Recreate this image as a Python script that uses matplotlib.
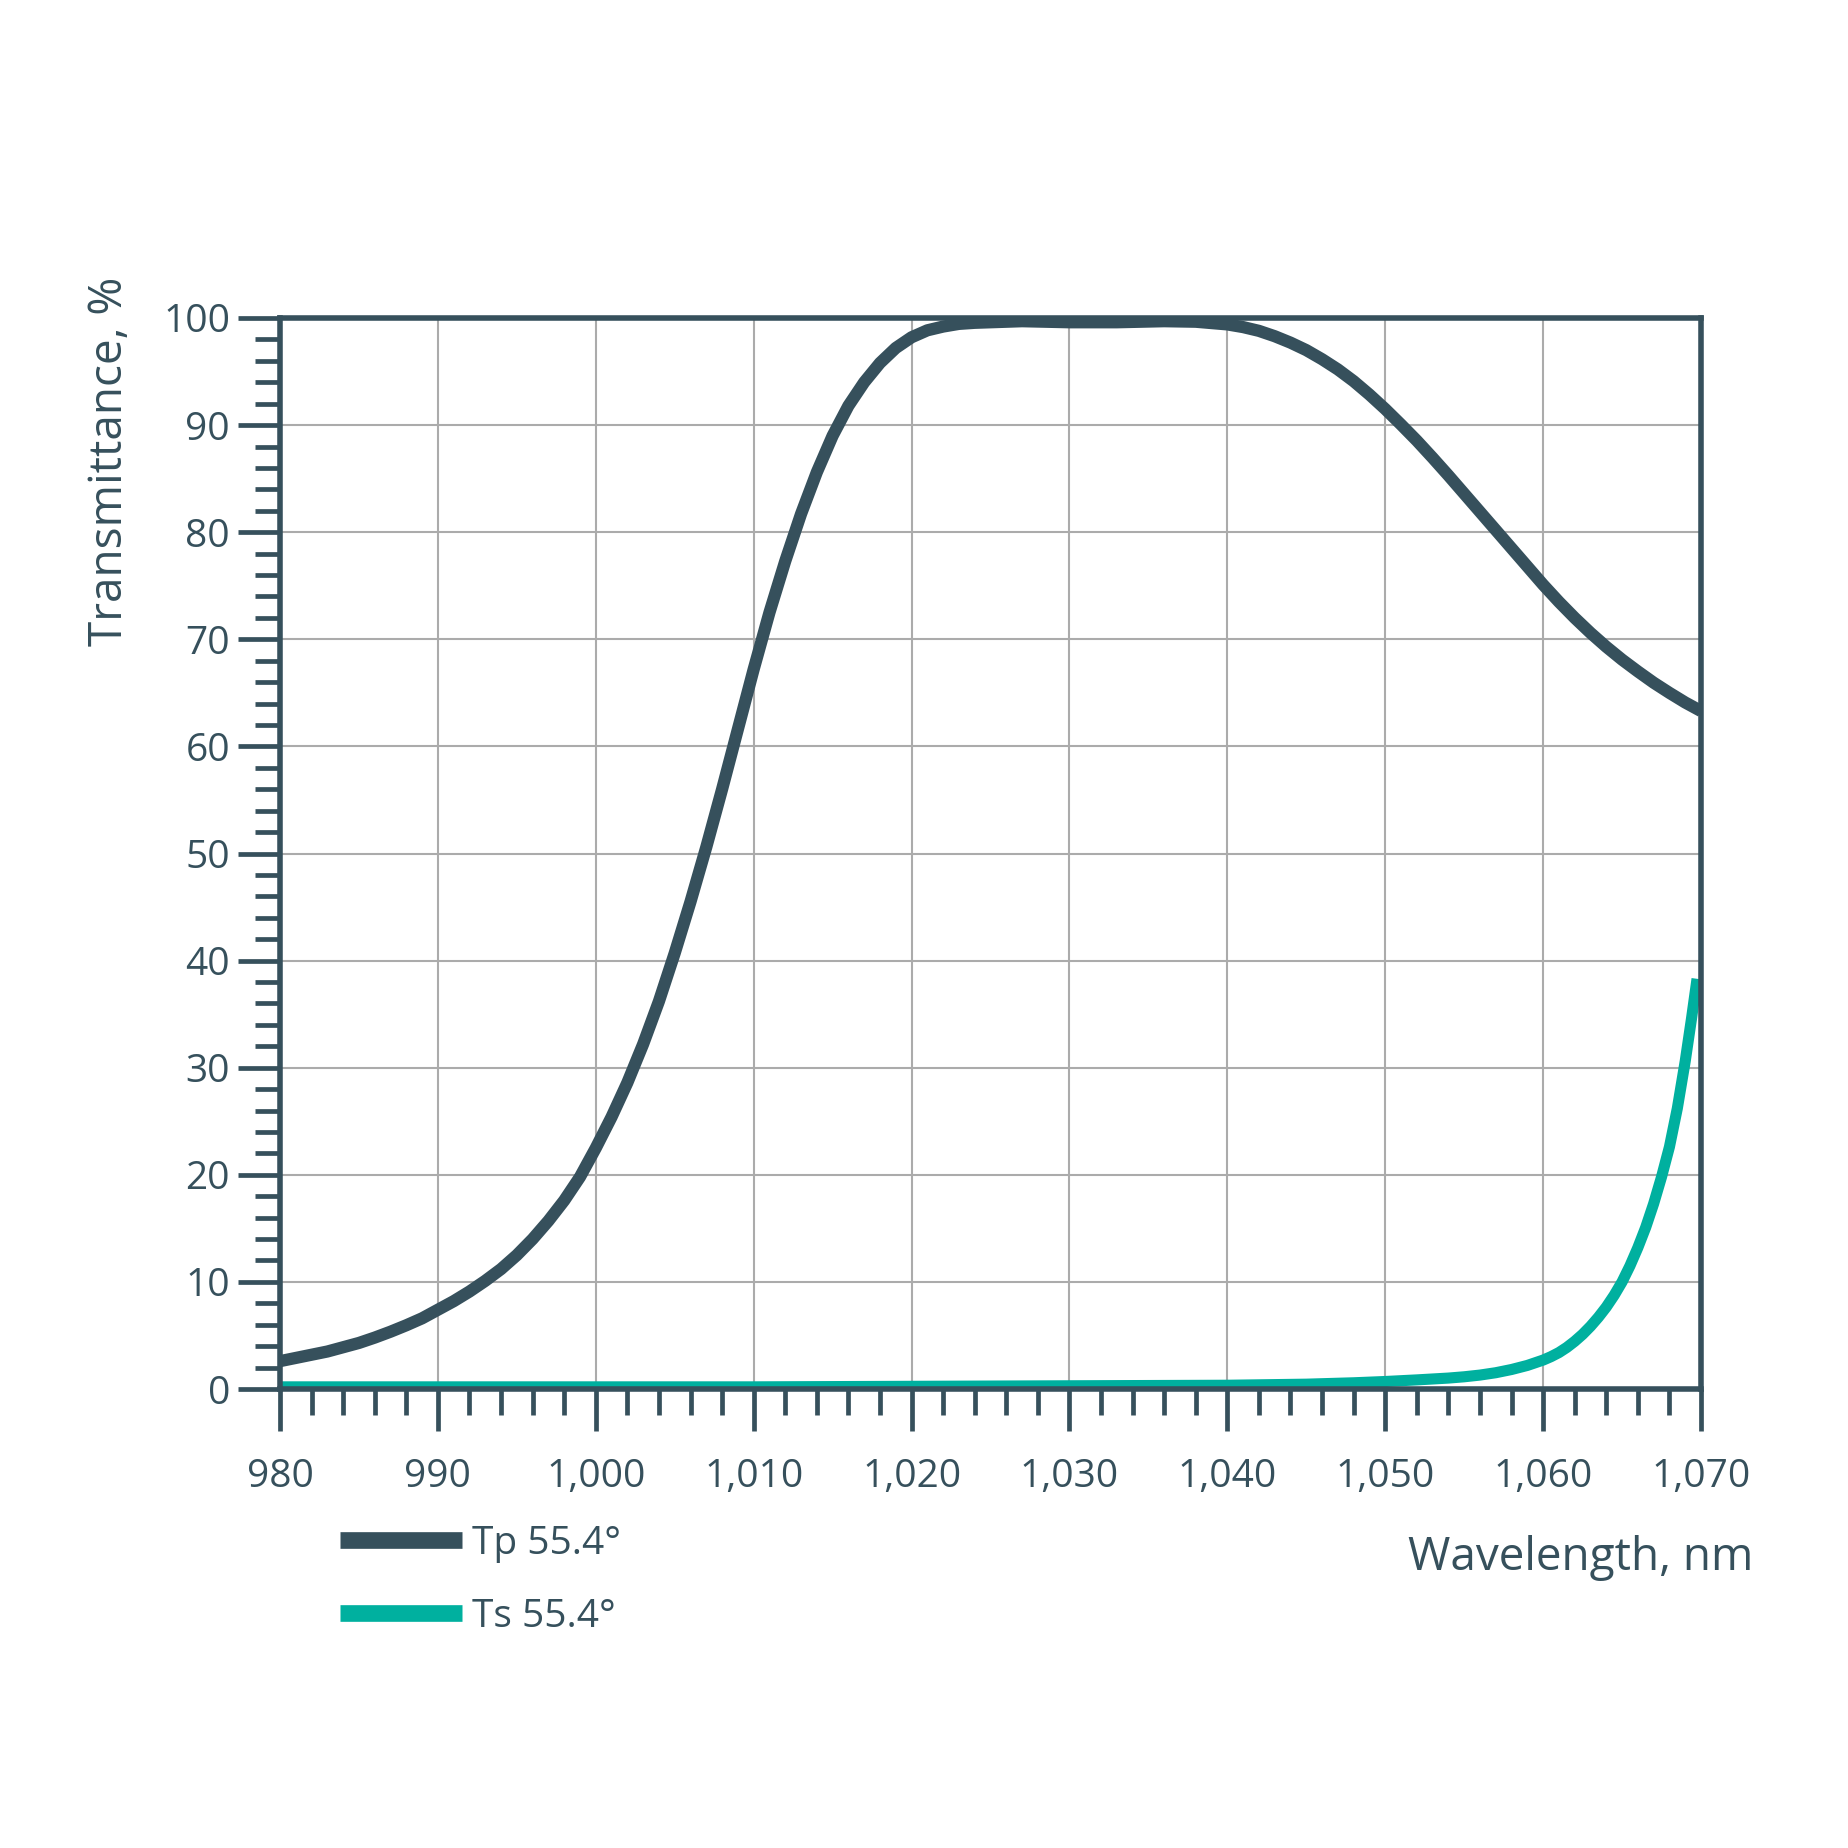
import matplotlib
matplotlib.use("Agg")
import matplotlib.pyplot as plt
from matplotlib.ticker import MultipleLocator, StrMethodFormatter

plt.rcParams['font.family'] = ['Open Sans', 'DejaVu Sans']

DARK = '#36505c'
TEAL = '#00b09f'
GRID = '#ababab'

# Tp 55.4° (wavelength nm, transmittance %)
tp_wl = [980, 981, 982, 983, 984, 985, 986, 987, 988, 989, 990, 991, 992, 993, 994,
         995, 996, 997, 998, 999, 1000, 1001, 1002, 1003, 1004, 1005, 1006, 1007,
         1008, 1009, 1010, 1011, 1012, 1013, 1014, 1015, 1016, 1017, 1018, 1019,
         1020, 1021, 1022, 1023, 1024, 1025, 1027, 1030, 1033, 1036, 1038, 1040,
         1041, 1042, 1043, 1044, 1045, 1046, 1047, 1048, 1049, 1050, 1051, 1052,
         1053, 1054, 1055, 1056, 1057, 1058, 1059, 1060, 1061, 1062, 1063, 1064,
         1065, 1066, 1067, 1068, 1069, 1070]
tp_val = [2.6, 2.9, 3.2, 3.5, 3.9, 4.3, 4.8, 5.35, 5.95, 6.6, 7.4, 8.2, 9.1, 10.1, 11.2,
          12.5, 14.0, 15.7, 17.6, 19.8, 22.5, 25.4, 28.6, 32.2, 36.2, 40.7, 45.5, 50.6,
          56.0, 61.6, 67.2, 72.5, 77.3, 81.7, 85.6, 89.0, 91.8, 94.0, 95.8, 97.2,
          98.2, 98.85, 99.2, 99.45, 99.55, 99.6, 99.7, 99.6, 99.6, 99.7, 99.65, 99.4,
          99.15, 98.8, 98.3, 97.7, 97.0, 96.15, 95.2, 94.1, 92.85, 91.5, 90.05, 88.55,
          86.95, 85.3, 83.6, 81.9, 80.2, 78.5, 76.8, 75.1, 73.5, 72.0, 70.6, 69.3,
          68.1, 67.0, 65.95, 65.0, 64.1, 63.3]

# Ts 55.4°
ts_wl = [980, 990, 1000, 1010, 1020, 1030, 1040, 1045, 1048, 1050, 1052, 1054, 1055,
         1056, 1057, 1058, 1059, 1060, 1060.5, 1061, 1061.5, 1062, 1062.5, 1063,
         1063.5, 1064, 1064.5, 1065, 1065.5, 1066, 1066.5, 1067, 1067.5, 1068,
         1068.5, 1069, 1069.4, 1069.75]
ts_val = [0.2, 0.2, 0.2, 0.2, 0.25, 0.3, 0.35, 0.45, 0.58, 0.7, 0.85, 1.02, 1.14,
          1.3, 1.52, 1.82, 2.2, 2.7, 3.02, 3.4, 3.88, 4.45, 5.1, 5.85,
          6.7, 7.65, 8.75, 10.0, 11.5, 13.2, 15.1, 17.3, 19.8, 22.6,
          26.2, 30.6, 34.6, 38.3]

series_labels = ['Tp 55.4°', 'Ts 55.4°']
x_label = 'Wavelength, nm'
y_label = 'Transmittance, %'

fig = plt.figure(figsize=(18.48, 18.48), dpi=100)
fig.patch.set_facecolor('white')
ax = fig.add_axes([280 / 1848, 1 - 1389 / 1848, (1701 - 280) / 1848, (1389 - 318) / 1848])

ax.plot(tp_wl, tp_val, color=DARK, lw=8.8, solid_capstyle='butt', solid_joinstyle='round',
        label=series_labels[0], zorder=2)
ax.plot(ts_wl, ts_val, color=TEAL, lw=8.0, solid_capstyle='butt', solid_joinstyle='round',
        label=series_labels[1], zorder=2)

ax.set_xlim(980, 1070)
ax.set_ylim(0, 100)
ax.xaxis.set_major_locator(MultipleLocator(10))
ax.xaxis.set_minor_locator(MultipleLocator(2))
ax.yaxis.set_major_locator(MultipleLocator(10))
ax.yaxis.set_minor_locator(MultipleLocator(2))
ax.xaxis.set_major_formatter(StrMethodFormatter('{x:,.0f}'))

ax.grid(True, which='major', color=GRID, lw=1.5, zorder=1)
ax.set_axisbelow(True)

for s in ax.spines.values():
    s.set_color(DARK)
    s.set_linewidth(4.0)

ax.tick_params(axis='both', which='both', direction='out', color=DARK,
               labelcolor=DARK, top=False, right=False)
ax.tick_params(axis='x', which='major', length=30, width=3.4, pad=20, labelsize=28)
ax.tick_params(axis='x', which='minor', length=19, width=3.4)
ax.tick_params(axis='y', which='major', length=30, width=3.4, pad=6, labelsize=28)
ax.tick_params(axis='y', which='minor', length=18, width=3.4)

fig.text(110 / 1848, 1 - 277 / 1848, y_label, rotation=90, ha='center', va='top',
         fontsize=33, color=DARK)
fig.text(1753 / 1848, 1 - 1558 / 1848, x_label, ha='right', va='center',
         fontsize=33, color=DARK)

leg = ax.legend(loc='upper left', bbox_to_anchor=(340 / 1848, 1 - 1525 / 1848),
                bbox_transform=fig.transFigure, frameon=False, fontsize=28,
                handlelength=3.14, handletextpad=0.25, labelspacing=0.9,
                borderpad=0, borderaxespad=0)
for h in leg.get_lines():
    h.set_linewidth(12)
for t in leg.get_texts():
    t.set_color(DARK)

fig.savefig('out.png', dpi=100, facecolor='white')
